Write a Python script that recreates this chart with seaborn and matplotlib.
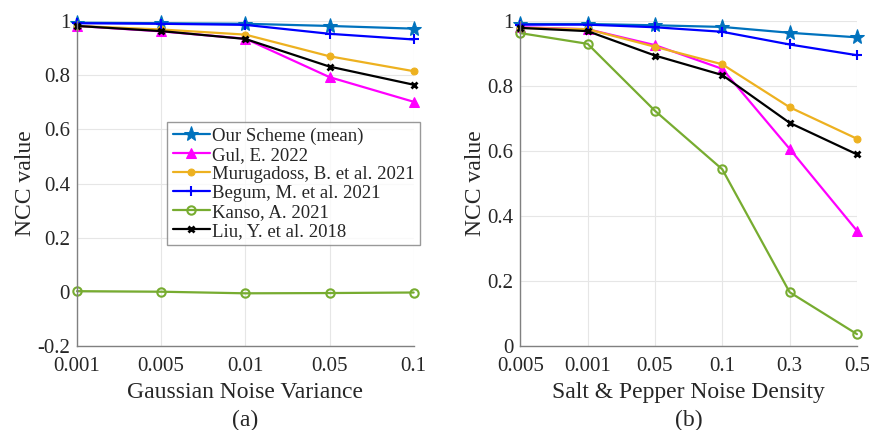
import matplotlib
matplotlib.use("Agg")
import matplotlib.pyplot as plt
import seaborn as sns
import pandas as pd
from matplotlib.ticker import FuncFormatter

# Gaussian noise (a)
gauss_labels = ["0.001", "0.005", "0.01", "0.05", "0.1"]
gauss_ours = [0.994, 0.992, 0.990, 0.982, 0.972]
gauss_gul = [0.982, 0.962, 0.935, 0.793, 0.702]
gauss_murugadoss = [0.982, 0.969, 0.950, 0.870, 0.815]
gauss_begum = [0.992, 0.990, 0.986, 0.953, 0.932]
gauss_kanso = [0.003, 0.001, -0.005, -0.004, -0.002]
gauss_liu = [0.982, 0.963, 0.934, 0.832, 0.765]

# Salt & pepper noise (b)
sp_labels = ["0.005", "0.001", "0.05", "0.1", "0.3", "0.5"]
sp_ours = [0.991, 0.991, 0.987, 0.982, 0.964, 0.950]
sp_gul = [0.981, 0.975, 0.926, 0.853, 0.607, 0.355]
sp_murugadoss = [0.979, 0.975, 0.921, 0.867, 0.735, 0.638]
sp_begum = [0.989, 0.989, 0.981, 0.967, 0.928, 0.895]
sp_kanso = [0.963, 0.930, 0.724, 0.544, 0.166, 0.037]
sp_liu = [0.979, 0.969, 0.894, 0.834, 0.687, 0.590]

names = ["Our Scheme (mean)", "Gul, E. 2022", "Murugadoss, B. et al. 2021",
         "Begum, M. et al. 2021", "Kanso, A. 2021", "Liu, Y. et al. 2018"]
colors = ["#0072BD", "#FF00FF", "#EDB120", "#0000FF", "#77AC30", "#000000"]
styles = [
    dict(marker="*", markersize=11),
    dict(marker="^", markersize=7),
    dict(marker="o", markersize=5),
    dict(marker="+", markersize=7, markeredgewidth=1.5),
    dict(marker="o", markersize=6, markerfacecolor="none", markeredgewidth=1.5),
    dict(marker="x", markersize=5, markeredgewidth=2),
]

sns.set_theme(style="whitegrid")
plt.rcParams["font.family"] = ["Liberation Serif", "DejaVu Serif"]
plt.rcParams["mathtext.fontset"] = "stix"

fig = plt.figure(figsize=(8.7, 4.3), dpi=100)
ax1 = fig.add_axes([0.0885, 0.195, 0.387, 0.756])
ax2 = fig.add_axes([0.598, 0.195, 0.387, 0.756])


def draw(ax, labels, series):
    xs = list(range(len(labels)))
    for name, vals, c, st in zip(names, series, colors, styles):
        df = pd.DataFrame({"x": xs, "y": vals})
        sns.lineplot(data=df, x="x", y="y", ax=ax, color=c, linewidth=1.6,
                     label=name, markeredgecolor=c, clip_on=False, **st)
    ax.set_xticks(xs)
    ax.set_xticklabels(labels)
    ax.set_xlim(0, len(labels) - 1)
    ax.set_ylabel("NCC value", fontsize=17, labelpad=1)
    ax.yaxis.set_major_formatter(FuncFormatter(lambda v, p: "%g" % round(v, 2)))
    ax.tick_params(labelsize=15, direction="in", length=3, width=0.8,
                   color="#808080", labelcolor="#262626")
    ax.tick_params(axis="x", pad=8)
    ax.tick_params(axis="y", pad=5)
    ax.grid(True, color="#e6e6e6", linewidth=0.8)
    for s in ["top", "right"]:
        ax.spines[s].set_visible(False)
    for s in ["left", "bottom"]:
        ax.spines[s].set_color("#808080")
        ax.spines[s].set_linewidth(1.0)


draw(ax1, gauss_labels, [gauss_ours, gauss_gul, gauss_murugadoss,
                         gauss_begum, gauss_kanso, gauss_liu])
ax1.set_ylim(-0.2, 1)
ax1.set_yticks([-0.2, 0, 0.2, 0.4, 0.6, 0.8, 1])
ax1.set_xlabel("Gaussian Noise Variance", fontsize=17, labelpad=4)
leg = ax1.legend(loc="upper left", bbox_to_anchor=(0.267, 0.69), fontsize=13.5,
                 frameon=True, fancybox=False, handlelength=2.0,
                 handletextpad=0.1, borderpad=0.3, labelspacing=0.1,
                 borderaxespad=0)
leg.get_frame().set_edgecolor("#808080")
leg.get_frame().set_linewidth(1.0)

draw(ax2, sp_labels, [sp_ours, sp_gul, sp_murugadoss,
                      sp_begum, sp_kanso, sp_liu])
ax2.set_ylim(0, 1)
ax2.set_yticks([0, 0.2, 0.4, 0.6, 0.8, 1])
ax2.set_xlabel("Salt & Pepper Noise Density", fontsize=17, labelpad=4)
ax2.get_legend().remove()

fig.text(0.282, 0.022, "(a)", ha="center", va="center", fontsize=17)
fig.text(0.792, 0.022, "(b)", ha="center", va="center", fontsize=17)

fig.savefig("out.png", dpi=100)
